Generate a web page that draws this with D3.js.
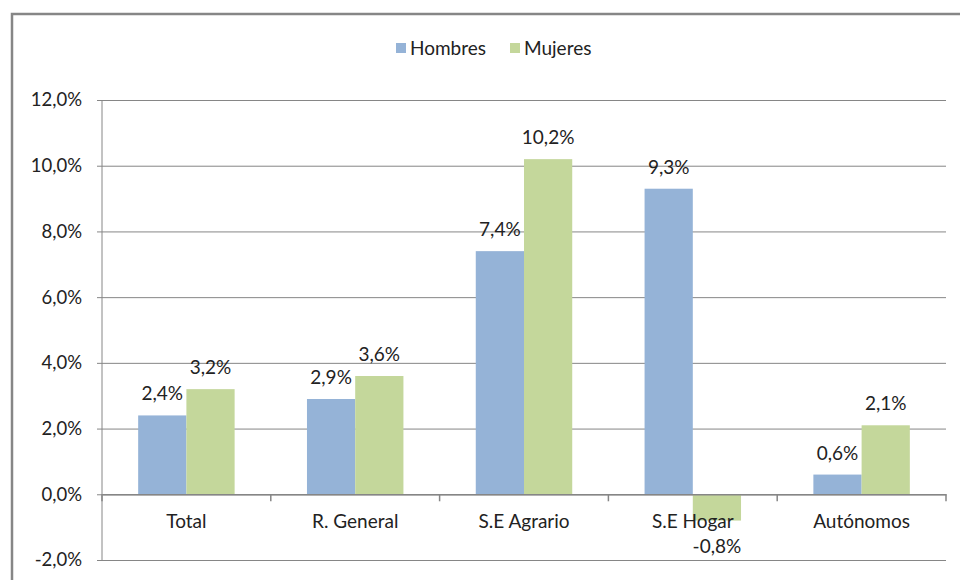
<!DOCTYPE html>
<html>
<head>
<meta charset="utf-8">
<script src="https://cdn.jsdelivr.net/npm/d3@7"></script>
<style>
  body { margin: 0; background: #fff; }
  text { font-family: Lato, "Open Sans", sans-serif; fill: #222; }
</style>
</head>
<body>
<div class="barchart"></div>
<script>
var categories = ["Total", "R. General", "S.E Agrario", "S.E Hogar", "Autónomos"];
var series = ["Hombres", "Mujeres"];
var hombres = [2.4, 2.9, 7.4, 9.3, 0.6];
var mujeres = [3.2, 3.6, 10.2, -0.8, 2.1];
var yTicks = [-2, 0, 2, 4, 6, 8, 10, 12];

var colors = { Hombres: "#95b3d7", Mujeres: "#c4d79b" };

var svgWidth = 960;
var svgHeight = 580;

var margin = { top: 100, right: 14, bottom: 20, left: 102 };
var width = svgWidth - margin.left - margin.right;
var height = svgHeight - margin.top - margin.bottom;

var svg = d3.select(".barchart")
  .append("svg")
  .attr("width", svgWidth)
  .attr("height", svgHeight);

// outer chart border
svg.append("rect")
  .attr("x", 12)
  .attr("y", 14)
  .attr("width", svgWidth)
  .attr("height", svgHeight)
  .attr("fill", "none")
  .attr("stroke", "#868686")
  .attr("stroke-width", 2.5);

var chartGroup = svg.append("g")
  .attr("transform", `translate(${margin.left}, ${margin.top})`);

var data = categories.map(function(c, i) {
  return { cat: c, Hombres: hombres[i], Mujeres: mujeres[i] };
});

var xScale = d3.scaleBand()
  .domain(categories)
  .range([0, width]);

// gap width 150% like the office chart
var barW = xScale.bandwidth() / 3.5;
var xSub = d3.scaleBand()
  .domain(series)
  .range([0, barW * 2]);

var yScale = d3.scaleLinear()
  .domain([-2, 12])
  .range([height, 0]);

// gridlines + y axis
var leftAxis = d3.axisLeft(yScale)
  .tickValues(yTicks)
  .tickSize(-width)
  .tickPadding(20)
  .tickFormat(d => d.toFixed(1).replace(".", ",") + "%");

var yAxis = chartGroup.append("g")
  .attr("class", "y-axis")
  .call(leftAxis);

yAxis.select(".domain").remove();
yAxis.selectAll("line")
  .attr("stroke", "#868686")
  .attr("x1", -5);
yAxis.selectAll("text")
  .attr("font-size", 18.5)
  .attr("fill", "#222");

chartGroup.append("line")
  .attr("x1", 0).attr("x2", 0)
  .attr("y1", 0).attr("y2", height)
  .attr("stroke", "#868686");

// bars
var groups = chartGroup.selectAll(".cat")
  .data(data)
  .enter()
  .append("g")
  .attr("class", "cat")
  .attr("transform", d => `translate(${xScale(d.cat) + xScale.bandwidth() / 2 - barW}, 0)`);

groups.selectAll("rect")
  .data(d => series.map(s => ({ key: s, value: d[s] })))
  .enter()
  .append("rect")
  .attr("x", d => xSub(d.key))
  .attr("width", xSub.bandwidth())
  .attr("y", d => yScale(Math.max(0, d.value)))
  .attr("height", d => Math.abs(yScale(d.value) - yScale(0)))
  .attr("fill", d => colors[d.key]);

// x axis at zero
var bottomAxis = d3.axisBottom(xScale).tickSize(0).tickFormat("");
var xAxis = chartGroup.append("g")
  .attr("transform", `translate(0, ${yScale(0)})`)
  .call(bottomAxis);
xAxis.select(".domain").attr("stroke", "#868686").attr("stroke-width", 1.5);

var bounds = categories.map(c => xScale(c)).concat([width]);
chartGroup.selectAll(".xtick")
  .data(bounds)
  .enter()
  .append("line")
  .attr("x1", d => d).attr("x2", d => d)
  .attr("y1", yScale(0)).attr("y2", yScale(0) + 7)
  .attr("stroke", "#868686")
  .attr("stroke-width", 1.5);

chartGroup.selectAll(".catlabel")
  .data(categories)
  .enter()
  .append("text")
  .attr("x", d => xScale(d) + xScale.bandwidth() / 2)
  .attr("y", yScale(0) + 34)
  .attr("text-anchor", "middle")
  .attr("font-size", 19)
  .text(d => d);

// value labels
groups.selectAll(".vlabel")
  .data(d => series.map(s => ({ key: s, value: d[s] })))
  .enter()
  .append("text")
  .attr("x", d => xSub(d.key) + xSub.bandwidth() / 2)
  .attr("y", d => d.value >= 0 ? yScale(d.value) - 15 : yScale(d.value) + 32)
  .attr("text-anchor", "middle")
  .attr("font-size", 19)
  .text(d => d.value.toFixed(1).replace(".", ",") + "%");

// legend
var legend = svg.append("g")
  .attr("transform", "translate(396, 48)");

var legendX = [0, 114];
series.forEach(function(s, i) {
  legend.append("rect")
    .attr("x", legendX[i])
    .attr("y", -5)
    .attr("width", 10)
    .attr("height", 10)
    .attr("fill", colors[s]);
  legend.append("text")
    .attr("x", legendX[i] + 14)
    .attr("y", 7)
    .attr("font-size", 19)
    .text(s);
});
</script>
</body>
</html>
